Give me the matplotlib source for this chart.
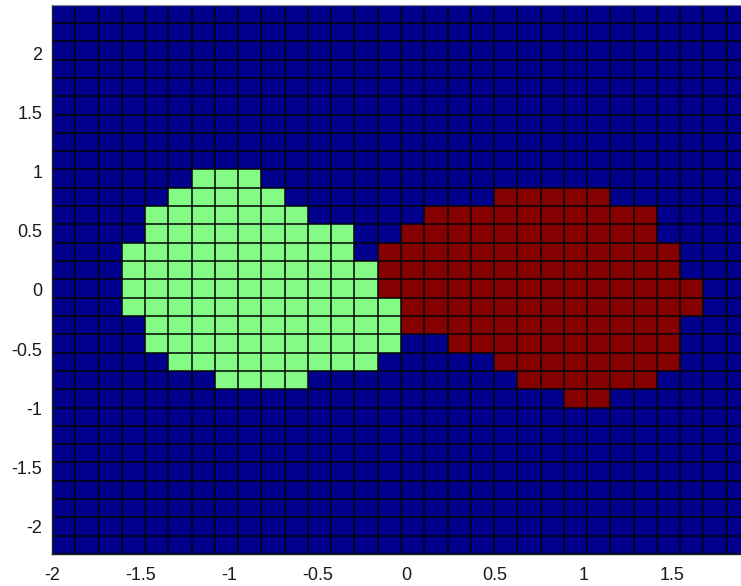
import matplotlib.pyplot as plt
import numpy as np
from matplotlib.colors import ListedColormap, BoundaryNorm

# Grid size of the decision map (rows x cols), rows counted from the top
n_rows, n_cols = 30, 30
x_range = (-2.0, 1.937)
y_range = (-2.23, 2.408)

# Class 2 (green) cells: (row, first col, last col)
green_spans = [
    (9, 6, 8), (10, 5, 9), (11, 4, 10), (12, 4, 12), (13, 3, 12),
    (14, 3, 13), (15, 3, 13), (16, 3, 14), (17, 4, 14), (18, 4, 14),
    (19, 5, 13), (20, 7, 10),
]
# Class 3 (red) cells: (row, first col, last col)
red_spans = [
    (10, 19, 23), (11, 16, 25), (12, 15, 25), (13, 14, 26), (14, 14, 26),
    (15, 14, 27), (16, 15, 27), (17, 15, 26), (18, 17, 26), (19, 19, 26),
    (20, 20, 25), (21, 22, 23),
]

x_ticks = [-2, -1.5, -1, -0.5, 0, 0.5, 1, 1.5]
y_ticks = [-2, -1.5, -1, -0.5, 0, 0.5, 1, 1.5, 2]

# Build the label grid (1 = background class)
labels = np.ones((n_rows, n_cols))
for r, c0, c1 in green_spans:
    labels[r, c0:c1 + 1] = 2
for r, c0, c1 in red_spans:
    labels[r, c0:c1 + 1] = 3
labels = np.flipud(labels)  # row 0 at the bottom for pcolormesh

x_edges = np.linspace(x_range[0], x_range[1], n_cols + 1)
y_edges = np.linspace(y_range[0], y_range[1], n_rows + 1)

cmap = ListedColormap(['#00008c', '#84fb84', '#850000'])
norm = BoundaryNorm([0.5, 1.5, 2.5, 3.5], cmap.N)

plt.rcParams['font.family'] = ['Liberation Sans', 'DejaVu Sans']

fig = plt.figure(figsize=(7.41, 5.86), dpi=100)
fig.patch.set_facecolor('white')
# axes runs slightly past the right edge of the figure
ax = fig.add_axes([52 / 741, 32 / 586, 698 / 741, 549.3 / 586])

ax.pcolormesh(x_edges, y_edges, labels, cmap=cmap, norm=norm,
              edgecolors='none')
# cell borders drawn as plain lines so every one has the same width
ax.vlines(x_edges, y_range[0], y_range[1], colors='#050505', linewidth=1.1)
ax.hlines(y_edges, x_range[0], x_range[1], colors='#050505', linewidth=1.1)

ax.set_xlim(x_range)
ax.set_ylim(y_range)
ax.set_xticks(x_ticks)
ax.set_yticks(y_ticks)
ax.set_xticklabels([f'{t:g}' for t in x_ticks])
ax.set_yticklabels([f'{t:g}' for t in y_ticks])
ax.tick_params(axis='both', length=0, labelsize=13, colors='#1a1a1a')
ax.tick_params(axis='x', pad=9)
ax.tick_params(axis='y', pad=7)

for side in ['left', 'bottom']:
    ax.spines[side].set_color('#222222')
    ax.spines[side].set_linewidth(1.0)
ax.spines['top'].set_color('#8a8a9a')
ax.spines['top'].set_linewidth(0.8)
ax.spines['right'].set_visible(False)

fig.savefig('out.png', dpi=100, facecolor='white')
